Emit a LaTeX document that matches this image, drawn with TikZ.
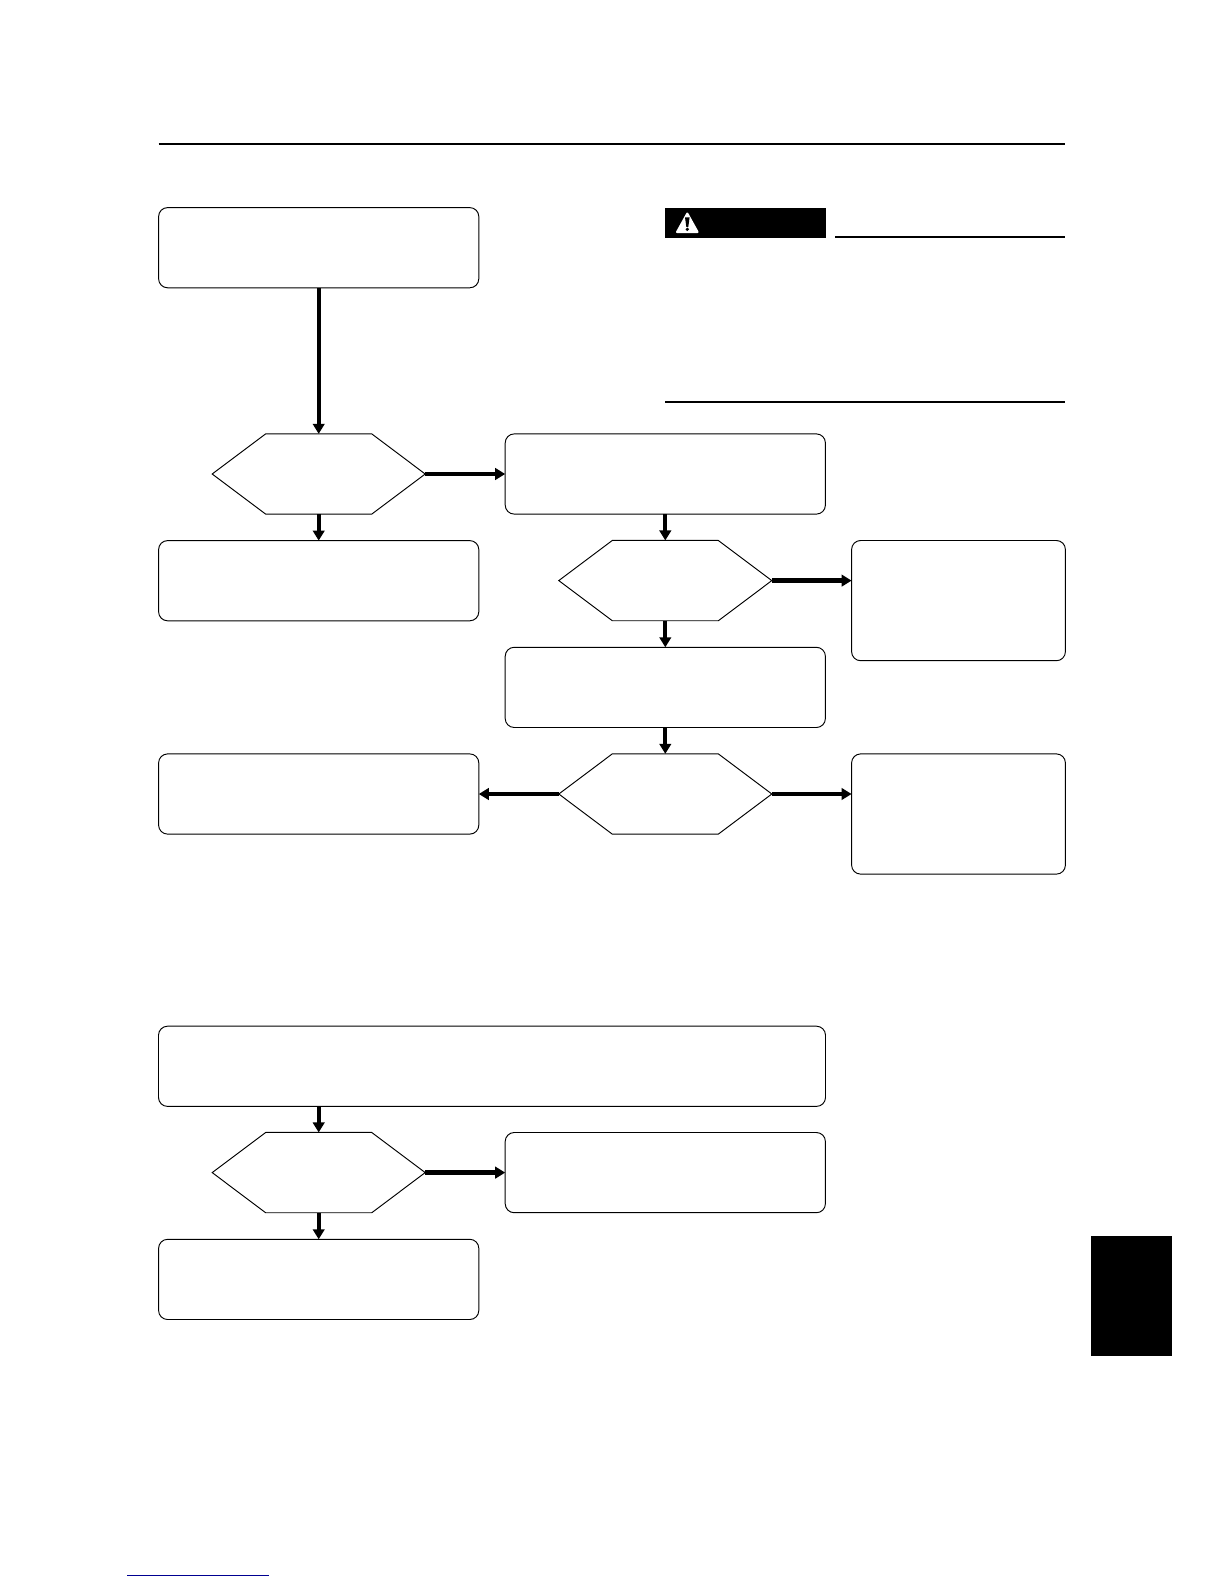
\documentclass[tikz,border=0pt]{standalone}
\usetikzlibrary{arrows.meta}
\definecolor{linkblue}{RGB}{0,0,145}
\tikzset{
  x=1pt,y=-1pt,
  every node/.style={inner sep=0pt,outer sep=0pt},
  procbox/.style={draw=black,line width=0.95pt,rounded corners=9pt,fill=white},
  wbox/.style={procbox,minimum width=320.2pt,minimum height=80.2pt},
  nbox/.style={procbox,minimum width=213.8pt,minimum height=120.2pt},
  hexnode/.style={minimum width=213pt,minimum height=80.3pt,
    append after command={
      \pgfextra{\draw[line width=0.95pt,line join=miter]
        (\tikzlastnode.west) -- ([xshift=53.5pt]\tikzlastnode.north west)
        -- ([xshift=-53.5pt]\tikzlastnode.north east) -- (\tikzlastnode.east)
        -- ([xshift=-53.5pt]\tikzlastnode.south east)
        -- ([xshift=53.5pt]\tikzlastnode.south west) -- cycle;}}},
  flow/.style={line width=4.4pt,-{Triangle[width=11.5pt,length=10pt]}},
  flowv/.style={line width=4pt,-{Triangle[width=11.5pt,length=10pt]}},
  rulethick/.style={line width=2pt},
}
\begin{document}
\begin{tikzpicture}
\useasboundingbox (0,0) rectangle (1224,1584);
% page furniture
\coordinate (ruleL) at (158.5,143.5);
\coordinate (ruleR) at (1065.2,143.5);
\draw[rulethick] (ruleL) -- (ruleR);
\node[fill=black,minimum width=161pt,minimum height=30pt,anchor=north west] (warn) at (665,208) {};
\fill[white,draw=white,line width=2pt,line join=round] (687.3,213.5) -- (697.6,232) -- (677,232) -- cycle;
\fill[black] (685,217.3) -- (689.6,217.3) -- (688.3,226.8) -- (686.3,226.8) -- cycle;
\fill[black] (687.3,229.3) circle (1.8pt);
\coordinate (warnA) at (835,236.7);
\coordinate (warnB) at (1065.4,236.7);
\coordinate (warnC) at (665,401.7);
\coordinate (warnD) at (1065.4,401.7);
\draw[rulethick] (warnA) -- (warnB);
\draw[rulethick] (warnC) -- (warnD);
\node[fill=black,minimum width=81pt,minimum height=120pt,anchor=north west] (tab) at (1091,1236) {};
\coordinate (linkA) at (127,1575.3);
\coordinate (linkB) at (269,1575.3);
\draw[linkblue,line width=1.2pt] (linkA) -- (linkB);
% first flow
\node[wbox] (b1) at (318.7,247.7) {};
\node[hexnode] (d1) at (318.7,474) {};
\node[wbox] (b2) at (318.7,580.7) {};
\node[wbox] (b3) at (665.3,474) {};
\node[hexnode] (d2) at (665.3,580.6) {};
\node[nbox] (b4) at (958.5,600.6) {};
\node[wbox] (b5) at (665.3,687.4) {};
\node[hexnode] (d3) at (665.3,794) {};
\node[wbox] (b6) at (318.7,794) {};
\node[nbox] (b7) at (958.5,814) {};
% second flow
\node[procbox,minimum width=667pt,minimum height=80.2pt] (b8) at (492,1066.3) {};
\node[hexnode] (d4) at (318.7,1172.6) {};
\node[wbox] (b9) at (665.3,1172.6) {};
\node[wbox] (b10) at (318.7,1279.4) {};
% connectors
\draw[flow] (b1) -- (d1);
\draw[flowv] (d1) -- (b2);
\draw[flow] (d1) -- (b3);
\draw[flowv] (b3) -- (d2);
\draw[flow] (d2.east) -- (d2.east -| b4.west);
\draw[flowv] (d2) -- (b5);
\draw[flowv] (b5) -- (d3);
\draw[flow] (d3) -- (b6);
\draw[flow] (d3.east) -- (d3.east -| b7.west);
\draw[flowv] (d4.north |- b8.south) -- (d4.north);
\draw[flow] (d4) -- (b9);
\draw[flowv] (d4) -- (b10);
\end{tikzpicture}
\end{document}
